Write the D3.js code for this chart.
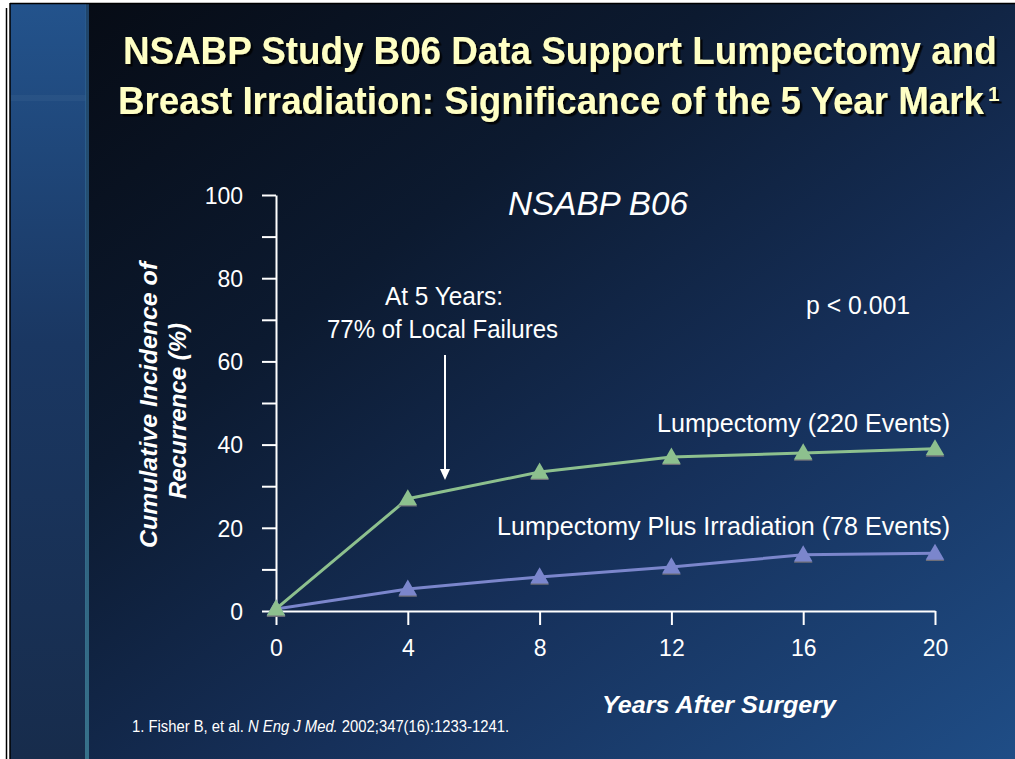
<!DOCTYPE html>
<html>
<head>
<meta charset="utf-8">
<script src="https://cdn.jsdelivr.net/npm/d3@7"></script>
<style>
  html, body { margin: 0; padding: 0; background: #fff; }
  svg { display: block; }
</style>
</head>
<body>
<svg class="slide"></svg>
<script>
// data
const years = [0, 4, 8, 12, 16, 20];
const lumpectomy = [0.5, 27, 33.4, 37, 38, 39];
const lumpIrradiation = [0.5, 5.3, 8.2, 10.6, 13.5, 13.9];
const yTicks = [0, 10, 20, 30, 40, 50, 60, 70, 80, 90, 100];
const xTicks = [0, 4, 8, 12, 16, 20];

const width = 1015;
const height = 759;
const sans = "'Liberation Sans', Arial, sans-serif";
const narrow = "'Liberation Sans Narrow', 'Arial Narrow', 'Liberation Sans', Arial, sans-serif";

const svg = d3.select(".slide").attr("width", width).attr("height", height);
const defs = svg.append("defs");

// squeeze a text horizontally to a given width (no narrow font installed)
const fitText = (sel, x, y, target) => {
  const w = sel.node().getComputedTextLength();
  sel.attr("x", 0).attr("y", 0)
    .attr("transform", `translate(${x},${y}) scale(${target / w},1)`);
  return sel;
};

const bg = defs.append("linearGradient").attr("id", "bg")
  .attr("x1", 0).attr("y1", 0).attr("x2", 1).attr("y2", 1);
bg.append("stop").attr("offset", 0).attr("stop-color", "#060a12");
bg.append("stop").attr("offset", 0.35).attr("stop-color", "#0c1a30");
bg.append("stop").attr("offset", 0.65).attr("stop-color", "#16305a");
bg.append("stop").attr("offset", 1).attr("stop-color", "#1f4d86");

const strip = defs.append("linearGradient").attr("id", "strip")
  .attr("x1", 0).attr("y1", 0).attr("x2", 0).attr("y2", 1);
strip.append("stop").attr("offset", 0).attr("stop-color", "#23538c");
strip.append("stop").attr("offset", 0.45).attr("stop-color", "#1a3762");
strip.append("stop").attr("offset", 1).attr("stop-color", "#172c4c");

const glow = defs.append("linearGradient").attr("id", "glow")
  .attr("x1", 0).attr("y1", 0).attr("x2", 0).attr("y2", 1);
glow.append("stop").attr("offset", 0).attr("stop-color", "#2a5c8e");
glow.append("stop").attr("offset", 1).attr("stop-color", "#4690a6");

const shadow = defs.append("filter").attr("id", "shadow")
  .attr("filterUnits", "userSpaceOnUse")
  .attr("x", 0).attr("y", 0).attr("width", width).attr("height", 180);
shadow.append("feDropShadow")
  .attr("dx", 2.5).attr("dy", 2.5).attr("stdDeviation", 0.4)
  .attr("flood-color", "#000").attr("flood-opacity", 0.85);

// slide frame
svg.append("rect").attr("x", 10).attr("y", 4).attr("width", width - 10).attr("height", height - 4)
  .attr("fill", "url(#bg)");
svg.append("rect").attr("x", 10).attr("y", 4).attr("width", 76).attr("height", height - 4)
  .attr("fill", "url(#strip)");
svg.append("rect").attr("x", 10).attr("y", 95).attr("width", 76).attr("height", 6)
  .attr("fill", "#ffffff").attr("opacity", 0.04);
svg.append("rect").attr("x", 85).attr("y", 4).attr("width", 4).attr("height", height - 4)
  .attr("fill", "url(#glow)").attr("opacity", 0.7);
svg.append("line").attr("x1", 10).attr("x2", width).attr("y1", 3.5).attr("y2", 3.5)
  .attr("stroke", "#000").attr("stroke-width", 1.5);
svg.append("line").attr("x1", 10).attr("x2", 10).attr("y1", 3).attr("y2", height)
  .attr("stroke", "#000").attr("stroke-width", 1.5);
svg.append("line").attr("x1", 6.5).attr("x2", 6.5).attr("y1", 8).attr("y2", height)
  .attr("stroke", "#000").attr("stroke-width", 1.5);

// title
const titleG = svg.append("g").attr("filter", "url(#shadow)").attr("fill", "#ffffc4")
  .style("font-family", narrow).style("font-weight", "bold");
fitText(titleG.append("text").style("font-size", "39px")
  .text("NSABP Study B06 Data Support Lumpectomy and"), 123, 64, 874);
fitText(titleG.append("text").style("font-size", "39px")
  .text("Breast Irradiation: Significance of the 5 Year Mark"), 118, 114, 866);
titleG.append("text")
  .attr("x", 988).attr("y", 101)
  .style("font-size", "21px")
  .text("1");

// scales
const xScale = d3.scaleLinear().domain([0, 20]).range([276, 935]);
const yScale = d3.scaleLinear().domain([0, 100]).range([611, 195]);

const yAxis = d3.axisLeft(yScale).tickValues(yTicks).tickSize(14).tickSizeOuter(0).tickPadding(19)
  .tickFormat(d => (d % 20 === 0 ? d : ""));
const xAxis = d3.axisBottom(xScale).tickValues(xTicks).tickSize(14).tickSizeOuter(0).tickPadding(15);

const yAxisG = svg.append("g").attr("transform", `translate(${xScale(0)},0)`).call(yAxis);
const xAxisG = svg.append("g").attr("transform", `translate(0,${yScale(0)})`).call(xAxis);

[yAxisG, xAxisG].forEach(g => {
  g.select(".domain").attr("stroke", "#fff").attr("stroke-width", 2);
  g.selectAll(".tick line").attr("stroke", "#fff").attr("stroke-width", 2);
  g.selectAll(".tick text").attr("fill", "#fff")
    .style("font-family", sans).style("font-size", "23px");
});
yAxisG.selectAll(".tick text").attr("dy", "0.36em");

// series
const series = [
  { name: "Lumpectomy (220 Events)", values: lumpectomy, color: "#8dc08e", ly: 432, len: 293 },
  { name: "Lumpectomy Plus Irradiation (78 Events)", values: lumpIrradiation, color: "#7b86cc", ly: 535, len: 453 }
];

const line = d3.line().x(d => xScale(d[0])).y(d => yScale(d[1]));
const tri = d3.symbol().type(d3.symbolTriangle).size(150);

series.slice().reverse().forEach(s => {
  const pts = years.map((yr, i) => [yr, s.values[i]]);
  svg.append("path").datum(pts)
    .attr("d", line)
    .attr("fill", "none")
    .attr("stroke", s.color)
    .attr("stroke-width", 3);

  svg.selectAll(null).data(pts).enter().append("path")
    .attr("d", tri)
    .attr("transform", d => `translate(${xScale(d[0])},${yScale(d[1]) + 2.5})`)
    .attr("fill", "#6f6f78");
  svg.selectAll(null).data(pts).enter().append("path")
    .attr("d", tri)
    .attr("transform", d => `translate(${xScale(d[0])},${yScale(d[1]) + 1.2})`)
    .attr("fill", s.color);
});

series.forEach(s => {
  svg.append("text")
    .attr("x", 950 - s.len).attr("y", s.ly)
    .attr("textLength", s.len).attr("lengthAdjust", "spacingAndGlyphs")
    .attr("fill", "#fff")
    .style("font-family", sans).style("font-size", "25px")
    .text(s.name);
});

// chart labels
svg.append("text")
  .attr("x", 508).attr("y", 215)
  .attr("textLength", 180).attr("lengthAdjust", "spacingAndGlyphs")
  .attr("fill", "#fff")
  .style("font-family", narrow).style("font-size", "34px").style("font-style", "italic")
  .text("NSABP B06");

svg.append("text")
  .attr("x", 806).attr("y", 314)
  .attr("textLength", 104).attr("lengthAdjust", "spacingAndGlyphs")
  .attr("fill", "#fff")
  .style("font-family", sans).style("font-size", "25px")
  .text("p < 0.001");

const note = [
  { text: "At 5 Years:", x: 385, y: 305, len: 118 },
  { text: "77% of Local Failures", x: 327, y: 338, len: 231 }
];
note.forEach(n => {
  svg.append("text")
    .attr("x", n.x).attr("y", n.y)
    .attr("textLength", n.len).attr("lengthAdjust", "spacingAndGlyphs")
    .attr("fill", "#fff")
    .style("font-family", narrow).style("font-size", "25px")
    .text(n.text);
});

// arrow at the 5 year mark
svg.append("line")
  .attr("x1", 445).attr("x2", 445).attr("y1", 355).attr("y2", 472)
  .attr("stroke", "#fff").attr("stroke-width", 2);
svg.append("path")
  .attr("d", "M440,469 L450,469 L445,480 Z")
  .attr("fill", "#fff");

// axis titles
const yTitle = svg.append("text")
  .attr("transform", "rotate(-90)")
  .attr("text-anchor", "middle")
  .attr("fill", "#fff")
  .style("font-family", sans).style("font-size", "24px")
  .style("font-weight", "bold").style("font-style", "italic");
yTitle.append("tspan").attr("x", -405).attr("y", 157)
  .attr("textLength", 286).attr("lengthAdjust", "spacingAndGlyphs")
  .text("Cumulative Incidence of");
yTitle.append("tspan").attr("x", -411).attr("y", 186).text("Recurrence (%)");

svg.append("text")
  .attr("x", 602).attr("y", 713)
  .attr("textLength", 234).attr("lengthAdjust", "spacingAndGlyphs")
  .attr("fill", "#fff")
  .style("font-family", sans).style("font-size", "24px")
  .style("font-weight", "bold").style("font-style", "italic")
  .text("Years After Surgery");

// footnote
const foot = svg.append("text")
  .attr("x", 132).attr("y", 732)
  .attr("textLength", 377).attr("lengthAdjust", "spacingAndGlyphs")
  .attr("fill", "#fff")
  .style("font-family", narrow).style("font-size", "16px");
foot.append("tspan").text("1. Fisher B, et al. ");
foot.append("tspan").style("font-style", "italic").text("N Eng J Med.");
foot.append("tspan").text(" 2002;347(16):1233-1241.");
</script>
</body>
</html>
